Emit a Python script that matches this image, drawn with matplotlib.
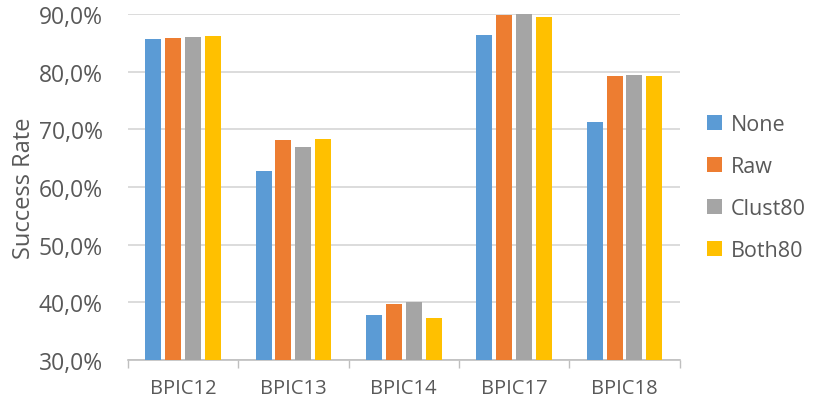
import numpy as np
import matplotlib.pyplot as plt
from matplotlib.ticker import FuncFormatter, FixedLocator

# data
categories = ["BPIC12", "BPIC13", "BPIC14", "BPIC17", "BPIC18"]
series = ["None", "Raw", "Clust80", "Both80"]
none_vals = [85.7, 62.8, 37.8, 86.4, 71.2]
raw_vals = [85.8, 68.2, 39.7, 89.9, 79.3]
clust80_vals = [86.1, 67.0, 40.1, 90.1, 79.4]
both80_vals = [86.2, 68.3, 37.3, 89.5, 79.3]
colors = ["#5b9bd5", "#ed7d31", "#a5a5a5", "#ffc000"]

plt.rcParams['font.family'] = ['Open Sans', 'DejaVu Sans']
txt = "#595959"

fig = plt.figure(figsize=(8.14, 4.06), dpi=100)
ax = fig.add_axes([0.157, 0.111, 0.678, 0.852])

x = np.arange(len(categories))
slot = 0.18
for i, (name, vals) in enumerate(zip(series, [none_vals, raw_vals, clust80_vals, both80_vals])):
    ax.bar(x + (i - 1.5) * slot, vals, width=0.145, color=colors[i], label=name, zorder=3)

ax.set_xlim(-0.5, len(categories) - 0.5)
ax.set_ylim(30, 90)
ax.set_yticks(np.arange(30, 91, 10))
ax.yaxis.set_major_formatter(FuncFormatter(lambda v, p: ("%.1f%%" % v).replace(".", ",")))
ax.grid(axis='y', color="#d9d9d9", linewidth=1.3, zorder=0)
ax.tick_params(axis='y', length=0, labelsize=16.5, labelcolor=txt, pad=18)

ax.set_xticks(x)
ax.set_xticklabels(categories)
ax.xaxis.set_minor_locator(FixedLocator(np.arange(-0.5, len(categories), 1)))
ax.tick_params(axis='x', which='major', length=0, labelsize=14.5, labelcolor=txt, pad=13)
ax.tick_params(axis='x', which='minor', length=6, color="#bfbfbf", width=1)

for s in ["top", "right", "left"]:
    ax.spines[s].set_visible(False)
ax.spines["bottom"].set_color("#bfbfbf")
ax.spines["bottom"].set_linewidth(1.2)

ax.set_ylabel("Success Rate", fontsize=17, color=txt, labelpad=2)

fig.legend(loc="center left", bbox_to_anchor=(0.869, 0.535), frameon=False,
           borderaxespad=0, borderpad=0,
           fontsize=15.5, labelcolor=txt, handlelength=0.7, handleheight=0.7,
           handletextpad=0.38, labelspacing=0.98)

fig.savefig("out.png", dpi=100)
